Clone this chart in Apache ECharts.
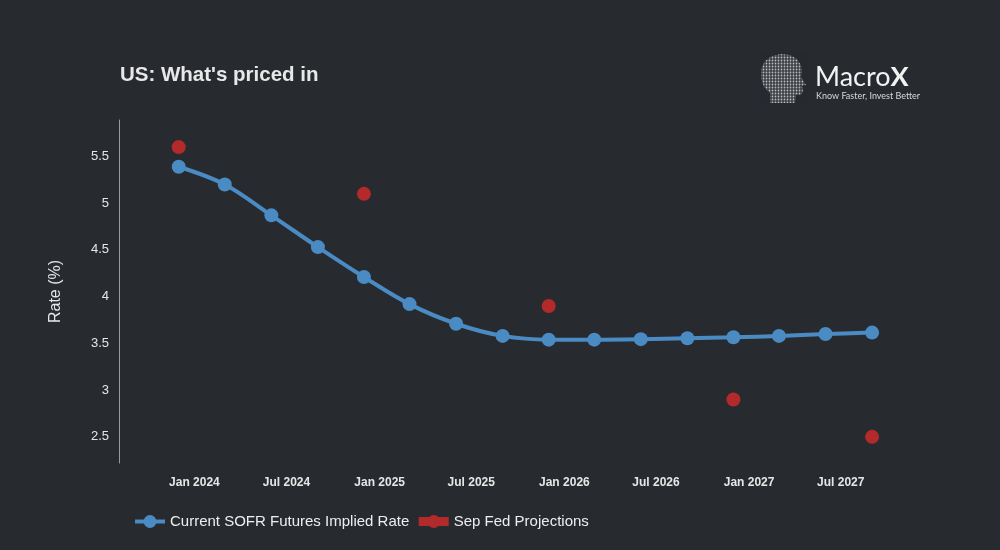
<!DOCTYPE html>
<html>
<head>
<meta charset="utf-8">
<title>US: What's priced in</title>
<script src="https://cdn.jsdelivr.net/npm/echarts@6/dist/echarts.min.js"></script>
<style>
  html, body { margin: 0; padding: 0; background: #272b30; }
  #main { width: 1000px; height: 550px; }
</style>
</head>
<body>
<div id="main"></div>
<script>
// quarterly SOFR futures contract dates
var sofrDates = ['2023-12-01', '2024-03-01', '2024-06-01', '2024-09-01',
                 '2024-12-01', '2025-03-01', '2025-06-01', '2025-09-01',
                 '2025-12-01', '2026-03-01', '2026-06-01', '2026-09-01',
                 '2026-12-01', '2027-03-01', '2027-06-01', '2027-09-01'];
var sofrRates = [5.39, 5.20, 4.87, 4.53, 4.21, 3.92, 3.71, 3.58,
                 3.54, 3.54, 3.545, 3.555, 3.565, 3.58, 3.60, 3.615];

// Sep FOMC median projections (last one = longer run)
var fedDates = ['2023-12-01', '2024-12-01', '2025-12-01', '2026-12-01', '2027-09-01'];
var fedRates = [5.6, 5.1, 3.9, 2.9, 2.5];

// axis ticks
var xTickDates = ['2024-01-01', '2024-07-01', '2025-01-01', '2025-07-01',
                  '2026-01-01', '2026-07-01', '2027-01-01', '2027-07-01'];
var yTicks = [2.5, 3, 3.5, 4, 4.5, 5, 5.5];

var monthNames = ['Jan', 'Feb', 'Mar', 'Apr', 'May', 'Jun', 'Jul', 'Aug', 'Sep', 'Oct', 'Nov', 'Dec'];

function ts(s) {
    return new Date(s + 'T00:00:00Z').getTime();
}

function zip(a, b) {
    var out = [];
    for (var i = 0; i < a.length; i++) {
        out.push([ts(a[i]), b[i]]);
    }
    return out;
}

// logo head outline (profile facing right), dotted look made with background coloured grid lines
var headPts = [[770, 103], [770, 93], [764, 87], [761, 78], [761, 69], [765, 61], [772, 56],
               [781, 54], [790, 55], [797, 59], [801, 65], [802, 72], [801, 77], [806, 85],
               [802, 86], [803, 91], [801, 95], [796, 95], [795, 103]];
var logo = [{
    type: 'polygon',
    shape: { points: headPts },
    style: { fill: 'rgba(225,225,225,0.8)' }
}];
for (var gx = 762; gx < 808; gx += 3) {
    logo.push({ type: 'line', shape: { x1: gx, y1: 52, x2: gx, y2: 105 },
                style: { stroke: '#272b30', lineWidth: 1.2 } });
}
for (var gy = 56; gy < 105; gy += 3) {
    logo.push({ type: 'line', shape: { x1: 758, y1: gy, x2: 809, y2: gy },
                style: { stroke: '#272b30', lineWidth: 1.2 } });
}
logo.push({
    type: 'text', left: 815, top: 64,
    style: {
        text: '{a|Macro}{b|X}',
        rich: {
            a: { fill: '#f2f2f2', fontSize: 27, fontFamily: 'Lato', fontWeight: 'normal' },
            b: { fill: '#f2f2f2', fontSize: 27, fontFamily: 'Lato', fontWeight: 'bold' }
        }
    }
});
logo.push({
    type: 'text', left: 816, top: 92,
    style: { text: 'Know Faster, Invest Better', fill: '#d8d8d8', fontSize: 9, fontFamily: 'Lato' }
});

var chart = echarts.init(document.getElementById('main'));
var option = {
    backgroundColor: '#272b30',
    animation: false,
    textStyle: { fontFamily: 'Liberation Sans, Arial, sans-serif' },
    title: {
        text: "US: What's priced in",
        left: 115,
        top: 60,
        textStyle: { color: '#e8e8e8', fontSize: 20.5, fontWeight: 'bold' }
    },
    legend: {
        left: 128,
        top: 509,
        itemWidth: 30,
        itemHeight: 16,
        itemGap: 5,
        textStyle: { color: '#eeeeee', fontSize: 15 },
        data: [
            { name: 'Current SOFR Futures Implied Rate', lineStyle: { width: 4 } },
            { name: 'Sep Fed Projections', lineStyle: { width: 9, color: '#b32a2a', opacity: 1 } }
        ]
    },
    grid: {
        left: 119,
        right: 53,
        top: 120,
        bottom: 87
    },
    xAxis: {
        type: 'value',
        min: ts('2023-08-05'),
        max: ts('2028-01-27'),
        axisLine: { show: false },
        axisTick: { show: false },
        splitLine: { show: false },
        axisLabel: {
            customValues: xTickDates.map(ts),
            margin: 14,
            color: '#e6e6e6',
            fontSize: 12,
            fontWeight: 'bold',
            formatter: function (val) {
                var d = new Date(val);
                return monthNames[d.getUTCMonth()] + ' ' + d.getUTCFullYear();
            }
        }
    },
    yAxis: {
        type: 'value',
        min: 2.22,
        max: 5.89,
        name: 'Rate (%)',
        nameLocation: 'middle',
        nameGap: 55,
        nameTextStyle: { color: '#e6e6e6', fontSize: 16 },
        axisLine: { show: true, lineStyle: { color: '#9a9a9a', width: 1 } },
        axisTick: { show: false },
        splitLine: { show: false },
        axisLabel: {
            customValues: yTicks,
            margin: 10,
            color: '#e6e6e6',
            fontSize: 13
        }
    },
    graphic: logo,
    series: [
        {
            name: 'Current SOFR Futures Implied Rate',
            type: 'line',
            smooth: 0.35,
            symbol: 'circle',
            symbolSize: 14,
            lineStyle: { color: '#4a8bc3', width: 4 },
            itemStyle: { color: '#4a8bc3' },
            data: zip(sofrDates, sofrRates)
        },
        {
            name: 'Sep Fed Projections',
            type: 'line',
            symbol: 'circle',
            symbolSize: 14,
            lineStyle: { width: 0, opacity: 0 },
            itemStyle: { color: '#b32a2a' },
            data: zip(fedDates, fedRates)
        }
    ]
};
chart.setOption(option);
</script>
</body>
</html>
